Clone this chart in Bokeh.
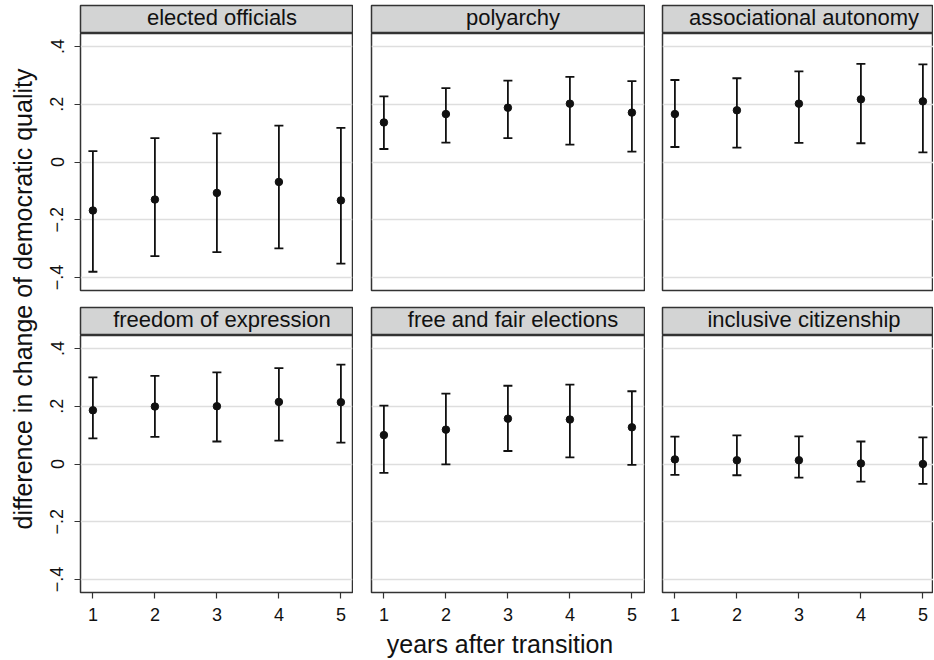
import math
from bokeh.plotting import figure
from bokeh.models import (Range1d, FixedTicker, Whisker, TeeHead, ColumnDataSource, Label)
from bokeh.layouts import row, column
from bokeh.embed import file_html
from bokeh.resources import INLINE

# ---------------- data ----------------
YEARS = [1, 2, 3, 4, 5]

TITLES = ["elected officials", "polyarchy", "associational autonomy",
          "freedom of expression", "free and fair elections", "inclusive citizenship"]

EST_ELECTED = [-0.168, -0.130, -0.107, -0.069, -0.133]
LO_ELECTED = [-0.380, -0.326, -0.312, -0.299, -0.352]
HI_ELECTED = [0.038, 0.083, 0.099, 0.126, 0.118]

EST_POLYARCHY = [0.137, 0.166, 0.188, 0.202, 0.171]
LO_POLYARCHY = [0.045, 0.067, 0.083, 0.060, 0.036]
HI_POLYARCHY = [0.227, 0.256, 0.282, 0.295, 0.280]

EST_ASSOC = [0.166, 0.179, 0.202, 0.217, 0.210]
LO_ASSOC = [0.052, 0.050, 0.066, 0.065, 0.033]
HI_ASSOC = [0.284, 0.290, 0.314, 0.340, 0.338]

EST_EXPR = [0.186, 0.199, 0.200, 0.215, 0.214]
LO_EXPR = [0.089, 0.094, 0.078, 0.081, 0.074]
HI_EXPR = [0.300, 0.305, 0.317, 0.332, 0.344]

EST_ELECT = [0.100, 0.119, 0.157, 0.154, 0.127]
LO_ELECT = [-0.031, -0.001, 0.045, 0.023, -0.003]
HI_ELECT = [0.202, 0.244, 0.271, 0.275, 0.252]

EST_CITIZ = [0.016, 0.013, 0.013, 0.002, 0.000]
LO_CITIZ = [-0.038, -0.039, -0.047, -0.061, -0.069]
HI_CITIZ = [0.095, 0.099, 0.096, 0.078, 0.092]

YTICKS = [-0.4, -0.2, 0.0, 0.2, 0.4]
YTICK_LABELS = ["\u2212.4", "\u2212.2", "0", ".2", ".4"]
XTICKS = YEARS
X_TITLE = "years after transition"
Y_TITLE = "difference in change of democratic quality"

PANEL_DATA = [
    (EST_ELECTED, LO_ELECTED, HI_ELECTED),
    (EST_POLYARCHY, LO_POLYARCHY, HI_POLYARCHY),
    (EST_ASSOC, LO_ASSOC, HI_ASSOC),
    (EST_EXPR, LO_EXPR, HI_EXPR),
    (EST_ELECT, LO_ELECT, HI_ELECT),
    (EST_CITIZ, LO_CITIZ, HI_CITIZ),
]

# ---------------- style / layout ----------------
FONT = "Liberation Sans"
INK = "#111111"
FRAME = "#333333"
HEAD_FILL = "#d3d4d4"
GRID = "#dedede"

PX_PER_YEAR = 62.0
X_PAD = 0.2
Y_LIM = 0.445
FRAME_H = 257
HEAD_H = 28
FULL_W = 273
COL_W = [272, 273, 271]
LEFT_B = [42, 18, 17]
RIGHT_B = [1, 1, 0]
HEAD_TOP = [5, 1]
ROW_GAP = 16
BOTTOM_B = 32
YT_W = 38
XT_H = 34
HEAD_TEXT_Y = 16.5
TOTAL_H = (HEAD_TOP[0] + HEAD_H + FRAME_H + ROW_GAP + HEAD_TOP[1] + HEAD_H
           + FRAME_H + BOTTOM_B + XT_H)
GRID_W = sum(LEFT_B) + sum(COL_W) + sum(RIGHT_B)


def bare(fig):
    fig.grid.visible = False
    fig.outline_line_color = None
    return fig


def make_header(title, col, r):
    w = COL_W[col]
    h = figure(frame_width=w, frame_height=HEAD_H,
               x_range=Range1d(0, w), y_range=Range1d(0, HEAD_H),
               min_border_left=LEFT_B[col], min_border_right=RIGHT_B[col],
               min_border_top=HEAD_TOP[r], min_border_bottom=0,
               toolbar_location=None, output_backend="svg",
               x_axis_location=None, y_axis_location=None,
               background_fill_color=HEAD_FILL, border_fill_color="white")
    h.grid.visible = False
    h.outline_line_color = FRAME
    h.outline_line_width = 1.5
    h.add_layout(Label(x=FULL_W / 2 + 5, y=HEAD_TEXT_Y, text=title, text_align="center",
                       text_baseline="middle", text_font=FONT,
                       text_font_size="22px", text_color=INK))
    return h


def make_panel(col, r, est, lo, hi):
    w = COL_W[col]
    xr = Range1d(1 - X_PAD, 1 - X_PAD + w / PX_PER_YEAR)
    yr = Range1d(-Y_LIM, Y_LIM)
    p = figure(frame_width=w, frame_height=FRAME_H, x_range=xr, y_range=yr,
               min_border_left=LEFT_B[col], min_border_right=RIGHT_B[col],
               min_border_top=0, min_border_bottom=(ROW_GAP if r == 0 else BOTTOM_B),
               toolbar_location=None, output_backend="svg",
               x_axis_location=("below" if r == 1 else None),
               y_axis_location=("left" if col == 0 else None),
               background_fill_color="white", border_fill_color="white")
    p.xgrid.visible = False
    p.ygrid.ticker = FixedTicker(ticks=YTICKS)
    p.ygrid.grid_line_color = GRID
    p.ygrid.grid_line_width = 1.5
    p.outline_line_color = FRAME
    p.outline_line_width = 1.5

    for ax in p.yaxis:
        ax.ticker = FixedTicker(ticks=YTICKS)
        ax.major_label_overrides = dict(zip(YTICKS, YTICK_LABELS))
        ax.major_label_orientation = "vertical"
        ax.axis_line_color = None
        ax.major_tick_in = 0
        ax.major_tick_out = 6
        ax.major_tick_line_color = FRAME
        ax.major_tick_line_width = 1.2
        ax.minor_tick_line_color = None
        ax.major_label_standoff = 11
        ax.major_label_text_font = FONT
        ax.major_label_text_font_size = "18px"
        ax.major_label_text_color = INK
    for ax in p.xaxis:
        ax.ticker = FixedTicker(ticks=XTICKS)
        ax.axis_line_color = None
        ax.major_tick_in = 0
        ax.major_tick_out = 6
        ax.major_tick_line_color = FRAME
        ax.major_tick_line_width = 1.2
        ax.minor_tick_line_color = None
        ax.major_label_standoff = 9
        ax.major_label_text_font = FONT
        ax.major_label_text_font_size = "18px"
        ax.major_label_text_color = INK

    src = ColumnDataSource(data=dict(x=YEARS, est=est, lo=lo, hi=hi))
    p.add_layout(Whisker(source=src, base="x", lower="lo", upper="hi",
                         line_color=INK, line_width=1.8,
                         upper_head=TeeHead(size=9, line_color=INK, line_width=1.8),
                         lower_head=TeeHead(size=9, line_color=INK, line_width=1.8)))
    p.scatter(x="x", y="est", source=src, size=7.5, fill_color=INK, line_color=INK)
    return p


rows = []
for r in range(2):
    heads = []
    plots = []
    for c in range(3):
        k = r * 3 + c
        est, lo, hi = PANEL_DATA[k]
        heads.append(make_header(TITLES[k], c, r))
        plots.append(make_panel(c, r, est, lo, hi))
    rows.append(row(*heads, spacing=0))
    rows.append(row(*plots, spacing=0))

xt = bare(figure(frame_width=GRID_W, frame_height=XT_H,
                 x_range=Range1d(0, GRID_W), y_range=Range1d(0, XT_H),
                 min_border=0, toolbar_location=None, output_backend="svg",
                 x_axis_location=None, y_axis_location=None))
xt.add_layout(Label(x=499.5 - YT_W, y=14.75, text=X_TITLE, text_align="center",
                    text_baseline="middle", text_font=FONT,
                    text_font_size="25px", text_color=INK))

yt = bare(figure(frame_width=YT_W, frame_height=TOTAL_H,
                 x_range=Range1d(0, YT_W), y_range=Range1d(0, TOTAL_H),
                 min_border=0, toolbar_location=None, output_backend="svg",
                 x_axis_location=None, y_axis_location=None))
yt.add_layout(Label(x=22, y=TOTAL_H - 298.5, text=Y_TITLE, angle=math.pi / 2,
                    text_align="center", text_baseline="middle", text_font=FONT,
                    text_font_size="25px", text_color=INK))

layout = row(yt, column(*rows, xt, spacing=0), spacing=0)

with open("out.html", "w", encoding="utf-8") as f:
    f.write(file_html(layout, INLINE))
